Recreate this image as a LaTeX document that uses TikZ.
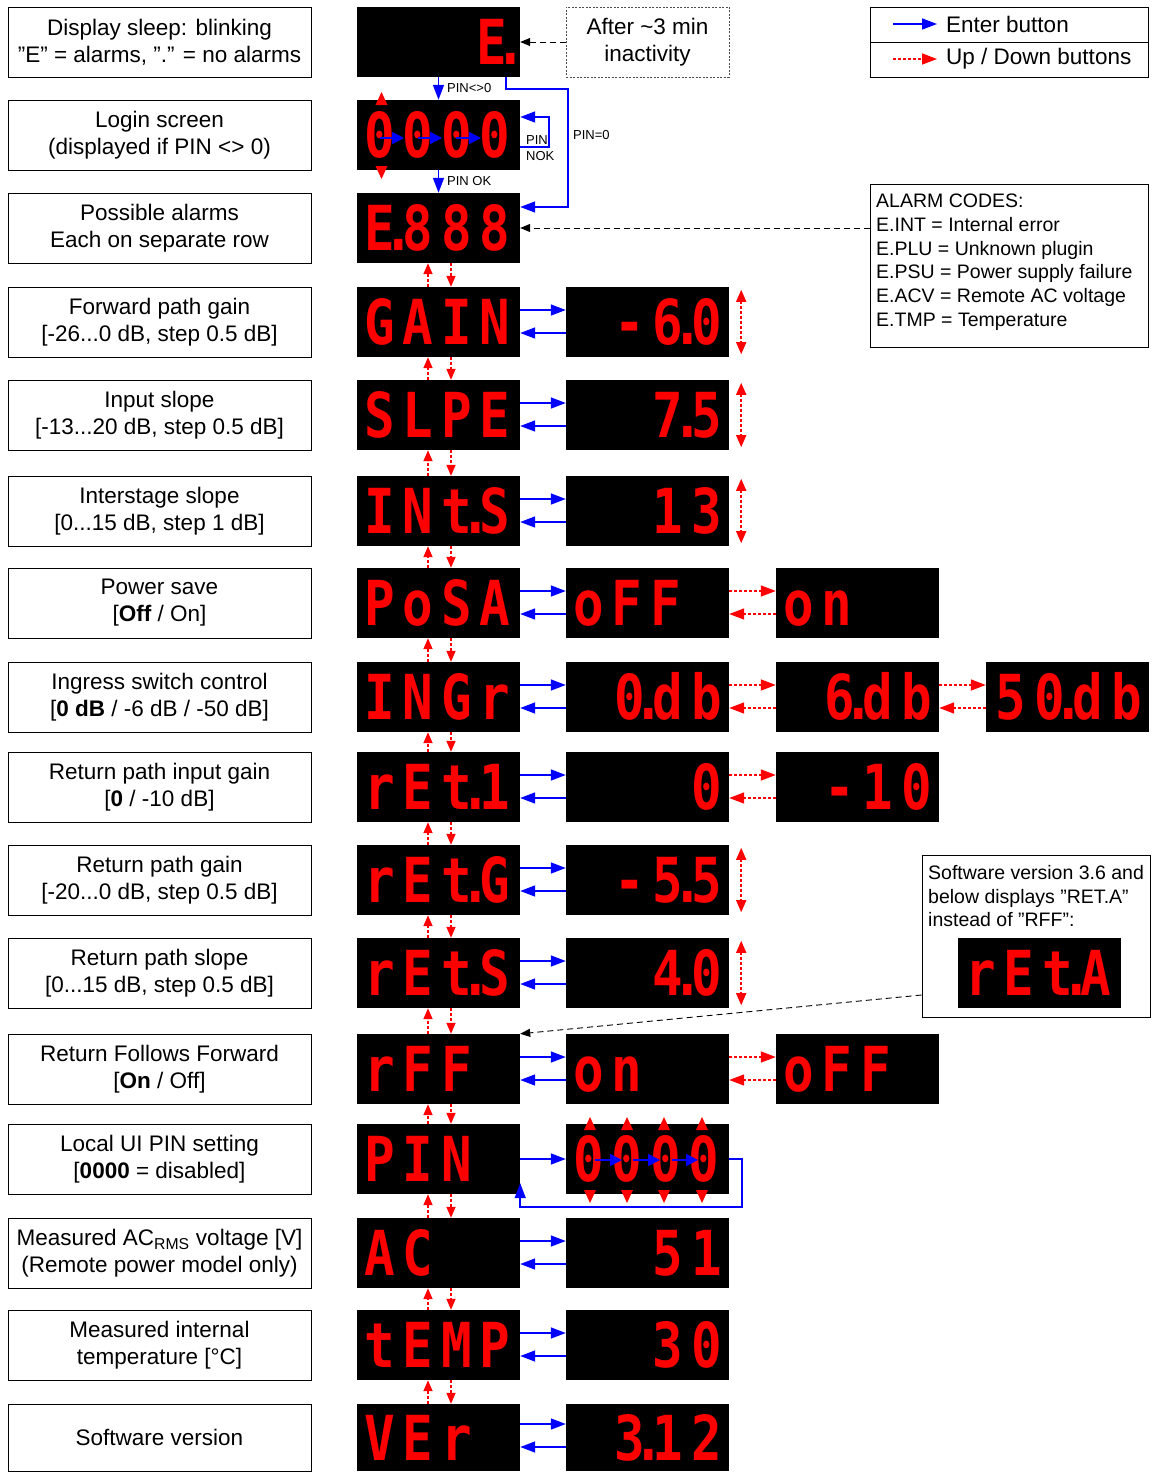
\documentclass[tikz,border=0pt]{standalone}
\usepackage{fontspec}
\setmainfont{Liberation Sans}
\newfontfamily\segfont[FakeStretch=0.82]{DejaVu Sans Mono Bold}
\usetikzlibrary{arrows.meta}
\newcommand\sdot{\hbox to 0pt{\hss.\hss}}
\newcommand\cl[1]{\makebox[38.6pt]{#1}}
\makeatletter
\newcommand\seg[1]{\seg@#1\@nil}
\def\seg@#1{\ifx#1\@nil\else\if#1.\sdot\else\cl{#1}\fi\expandafter\seg@\fi}
\makeatother
\newcommand\utri[2]{\fill[red] (#1-6,#2) -- (#1+6,#2) -- (#1,#2-13) -- cycle;}
\newcommand\dtri[2]{\fill[red] (#1-6,#2) -- (#1+6,#2) -- (#1,#2+13) -- cycle;}
\begin{document}
\begin{tikzpicture}[x=1pt,y=-1pt,
 lbl/.style={draw=black, line width=0.9pt, minimum width=303pt, minimum height=70pt, inner sep=0pt, align=center, font=\fontsize{22.5}{27}\selectfont},
 disp/.style={fill=black, inner xsep=3pt, inner ysep=0pt, minimum height=70pt, text width=157pt, text height=45pt, text depth=0pt, text=red, font=\segfont\fontsize{62}{62}\selectfont},
 dl/.style={disp, align=left}, dr/.style={disp, align=right},
 enter/.style={draw=blue, line width=1.6pt, -{Triangle[length=15pt,width=11pt]}},
 enters/.style={enter, -{Triangle[length=12pt,width=12pt]}},
 updn/.style={draw=red, line width=1.6pt, dash pattern=on 3pt off 2pt, -{Triangle[length=15pt,width=11pt]}},
 updnv/.style={updn, -{Triangle[length=11pt,width=9pt]}},
 updnd/.style={updn, {Triangle[length=12pt,width=10pt]}-{Triangle[length=12pt,width=10pt]}},
 note/.style={draw=black, line width=0.9pt, dash pattern=on 6pt off 4pt, -{Triangle[length=10pt,width=8pt]}},
 small/.style={font=\fontsize{13}{16}\selectfont, inner sep=0pt, align=left},
 box/.style={draw=black, line width=0.9pt},
 mid/.style={font=\fontsize{19.5}{23.7}\selectfont, inner sep=0pt, align=left}
]
\useasboundingbox (0,0) rectangle (1151,1472);

% ---- label boxes
\node[lbl] (l1) at (159.5,42) {Display sleep: blinking\\”E” = alarms, ”.” = no alarms};
\node[lbl] (l2) at (159.5,135) {Login screen\\(displayed if PIN <> 0)};
\node[lbl] (l3) at (159.5,228) {Possible alarms\\Each on separate row};
\node[lbl] (l4) at (159.5,322) {Forward path gain\\{}[-26...0 dB, step 0.5 dB]};
\node[lbl] (l5) at (159.5,415) {Input slope\\{}[-13...20 dB, step 0.5 dB]};
\node[lbl] (l6) at (159.5,511) {Interstage slope\\{}[0...15 dB, step 1 dB]};
\node[lbl] (l7) at (159.5,603) {Power save\\{}[\textbf{Off} / On]};
\node[lbl] (l8) at (159.5,697) {Ingress switch control\\{}[\textbf{0 dB} / -6 dB / -50 dB]};
\node[lbl] (l9) at (159.5,787) {Return path input gain\\{}[\textbf{0} / -10 dB]};
\node[lbl] (l10) at (159.5,880) {Return path gain\\{}[-20...0 dB, step 0.5 dB]};
\node[lbl] (l11) at (159.5,973) {Return path slope\\{}[0...15 dB, step 0.5 dB]};
\node[lbl] (l12) at (159.5,1069) {Return Follows Forward\\{}[\textbf{On} / Off]};
\node[lbl] (l13) at (159.5,1159) {Local UI PIN setting\\{}[\textbf{0000} = disabled]};
\node[lbl] (l14) at (159.5,1253) {Measured AC\textsubscript{RMS} voltage [V]\\(Remote power model only)};
\node[lbl] (l15) at (159.5,1345) {Measured internal\\temperature [°C]};
\node[lbl, minimum height=67pt] (l16) at (159.5,1437.5) {Software version};

% ---- displays, main column
\node[dr] (d1a) at (438.5,42) {\seg{E.}\kern6pt};
\node[dl] (d2a) at (438.5,135) {\seg{0000}};
\node[dl] (d3a) at (438.5,228) {\seg{E.888}};
\node[dl] (d4a) at (438.5,322) {\seg{GAIN}};
\node[dl] (d5a) at (438.5,415) {\seg{SLPE}};
\node[dl] (d6a) at (438.5,511) {\seg{INt.S}};
\node[dl] (d7a) at (438.5,603) {\seg{PoSA}};
\node[dl] (d8a) at (438.5,697) {\seg{INGr}};
\node[dl] (d9a) at (438.5,787) {\seg{rEt.1}};
\node[dl] (d10a) at (438.5,880) {\seg{rEt.G}};
\node[dl] (d11a) at (438.5,973) {\seg{rEt.S}};
\node[dl] (d12a) at (438.5,1069) {\seg{rFF}};
\node[dl] (d13a) at (438.5,1159) {\seg{PIN}};
\node[dl] (d14a) at (438.5,1253) {\seg{AC}};
\node[dl] (d15a) at (438.5,1345) {\seg{tEMP}};
\node[dl, minimum height=67pt] (d16a) at (438.5,1437.5) {\seg{VEr}};

% ---- value displays
\node[dr] (d4b) at (647.5,322) {\seg{-6.0}};
\node[dr] (d5b) at (647.5,415) {\seg{7.5}};
\node[dr] (d6b) at (647.5,511) {\seg{13}};
\node[dl] (d7b) at (647.5,603) {\seg{oFF}};
\node[dl] (d7c) at (857.5,603) {\seg{on}};
\node[dr] (d8b) at (647.5,697) {\seg{0.db}};
\node[dr] (d8c) at (857.5,697) {\seg{6.db}};
\node[dr] (d8d) at (1067.5,697) {\seg{50.db}};
\node[dr] (d9b) at (647.5,787) {\seg{0}};
\node[dr] (d9c) at (857.5,787) {\seg{-10}};
\node[dr] (d10b) at (647.5,880) {\seg{-5.5}};
\node[dr] (d11b) at (647.5,973) {\seg{4.0}};
\node[dl] (d12b) at (647.5,1069) {\seg{on}};
\node[dl] (d12c) at (857.5,1069) {\seg{oFF}};
\node[dl] (d13b) at (647.5,1159) {\seg{0000}};
\node[dr] (d14b) at (647.5,1253) {\seg{51}};
\node[dr] (d15b) at (647.5,1345) {\seg{30}};
\node[dr, minimum height=67pt] (d16b) at (647.5,1437.5) {\seg{3.12}};

% ---- notes and legend
\node[draw=black!70, line width=0.8pt, dash pattern=on 2pt off 1.5pt, minimum width=163pt, minimum height=70pt, align=center, inner sep=0pt, font=\fontsize{22.5}{27}\selectfont] (after) at (647.5,42) {After \textasciitilde3 min\\inactivity};

\node[box, minimum width=278pt, minimum height=35pt] (leg1) at (1009,24.5) {};
\node[box, minimum width=278pt, minimum height=35pt] (leg2) at (1009,59.5) {};
\coordinate (e1) at (893,24); \coordinate (e2) at (937,24);
\coordinate (u1) at (893,59); \coordinate (u2) at (937,59);
\node[anchor=west, inner sep=0pt, font=\fontsize{22.5}{27}\selectfont] (legt1) at (946,24) {Enter button};
\node[anchor=west, inner sep=0pt, font=\fontsize{22.5}{27}\selectfont] (legt2) at (946,59) {Up / Down buttons};

\node[box, minimum width=278pt, minimum height=163pt] (alarms) at (1009,265.5) {};
\node[mid, anchor=north west] (alarmtxt) at (876,194) {ALARM CODES:\\E.INT = Internal error\\E.PLU = Unknown plugin\\E.PSU = Power supply failure\\E.ACV = Remote AC voltage\\E.TMP = Temperature};

\node[box, minimum width=228pt, minimum height=162pt] (swnote) at (1036,936) {};
\node[mid, anchor=north west] (swtxt) at (928,865) {Software version 3.6 and\\below displays ”RET.A”\\instead of ”RFF”:};
\node[dl] (reta) at (1039.5,973) {\seg{rEt.A}};

% ---- small labels
\node[small, anchor=west] (lpinne) at (447,88) {PIN<>0};
\node[small, anchor=west] (lpinok) at (447,181) {PIN OK};
\node[small, anchor=west] (lpin0) at (573,135) {PIN=0};
\node[small, anchor=west] (lnok) at (526,148) {PIN\\NOK};

% ---- connectors: login
\draw[enter] (d1a.south) -- (d2a.north);
\draw[enter] (d2a.south) -- (d3a.north);
\draw[enter] ([xshift=67.5pt]d1a.south) |- (568,89) -- (568,207) -- ([yshift=21pt]d3a.east);
\draw[enter] ([yshift=-12pt]d2a.east) -| (549,117) -- ([yshift=18pt]d2a.east);
\draw[enters] (380,138) -- (404,138);
\draw[enters] (418,138) -- (442,138);
\draw[enters] (456,138) -- (481,138);
\utri{381.5}{105}
\dtri{381.5}{166}

% dashed notes
\draw[note] (d1a.east -| after.west) -- (d1a.east);
\draw[note] (d3a.east -| alarms.west) -- (d3a.east);
\draw[note] ([yshift=-59pt]swnote.west) -- (d12a.north east);

% legend arrows
\draw[enter] (e1) -- (e2);
\draw[updn] (u1) -- (u2);

% up/down between rows
\foreach \i/\j in {3/4,4/5,5/6,6/7,7/8,8/9,9/10,10/11,11/12,12/13,13/14,14/15,15/16} {
  \draw[updnv] ([xshift=-10.5pt]d\j a.north) -- ([xshift=-10.5pt]d\i a.south);
  \draw[updnv] ([xshift=12.5pt]d\i a.south) -- ([xshift=12.5pt]d\j a.north);
}

% enter between menu and value
\foreach \i in {4,5,6,7,8,9,10,11,12,14,15} {
  \draw[enter] ([yshift=12pt]d\i a.east) -- ([yshift=12pt]d\i b.west);
  \draw[enter] ([yshift=-11pt]d\i b.west) -- ([yshift=-11pt]d\i a.east);
}
\draw[enter] ([yshift=13.5pt]d16a.east) -- ([yshift=13.5pt]d16b.west);
\draw[enter] ([yshift=-9.5pt]d16b.west) -- ([yshift=-9.5pt]d16a.east);

% up/down between values
\foreach \a/\b in {d7b/d7c,d8b/d8c,d8c/d8d,d9b/d9c,d12b/d12c} {
  \draw[updn] ([yshift=12pt]\a.east) -- ([yshift=12pt]\b.west);
  \draw[updn] ([yshift=-11pt]\b.west) -- ([yshift=-11pt]\a.east);
}

% value range arrows
\foreach \i in {4,5,6,10,11} {
  \draw[updnd] ([shift={(12pt,-3pt)}]d\i b.north east) -- ([shift={(12pt,3pt)}]d\i b.south east);
}

% PIN setting
\draw[enter] (d13a.east) -- (d13b.west);
\draw[enter] (d13b.east) -- ++(13,0) |- ([yshift=-13pt]d13a.south east) -- ([yshift=11pt]d13a.south east);
\draw[enters] (595,1160) -- (622,1160);
\draw[enters] (633,1160) -- (660,1160);
\draw[enters] (672,1160) -- (698,1160);
\foreach \x in {590,627,664,702} {
  \utri{\x}{1130}
  \dtri{\x}{1190}
}
\end{tikzpicture}
\end{document}
